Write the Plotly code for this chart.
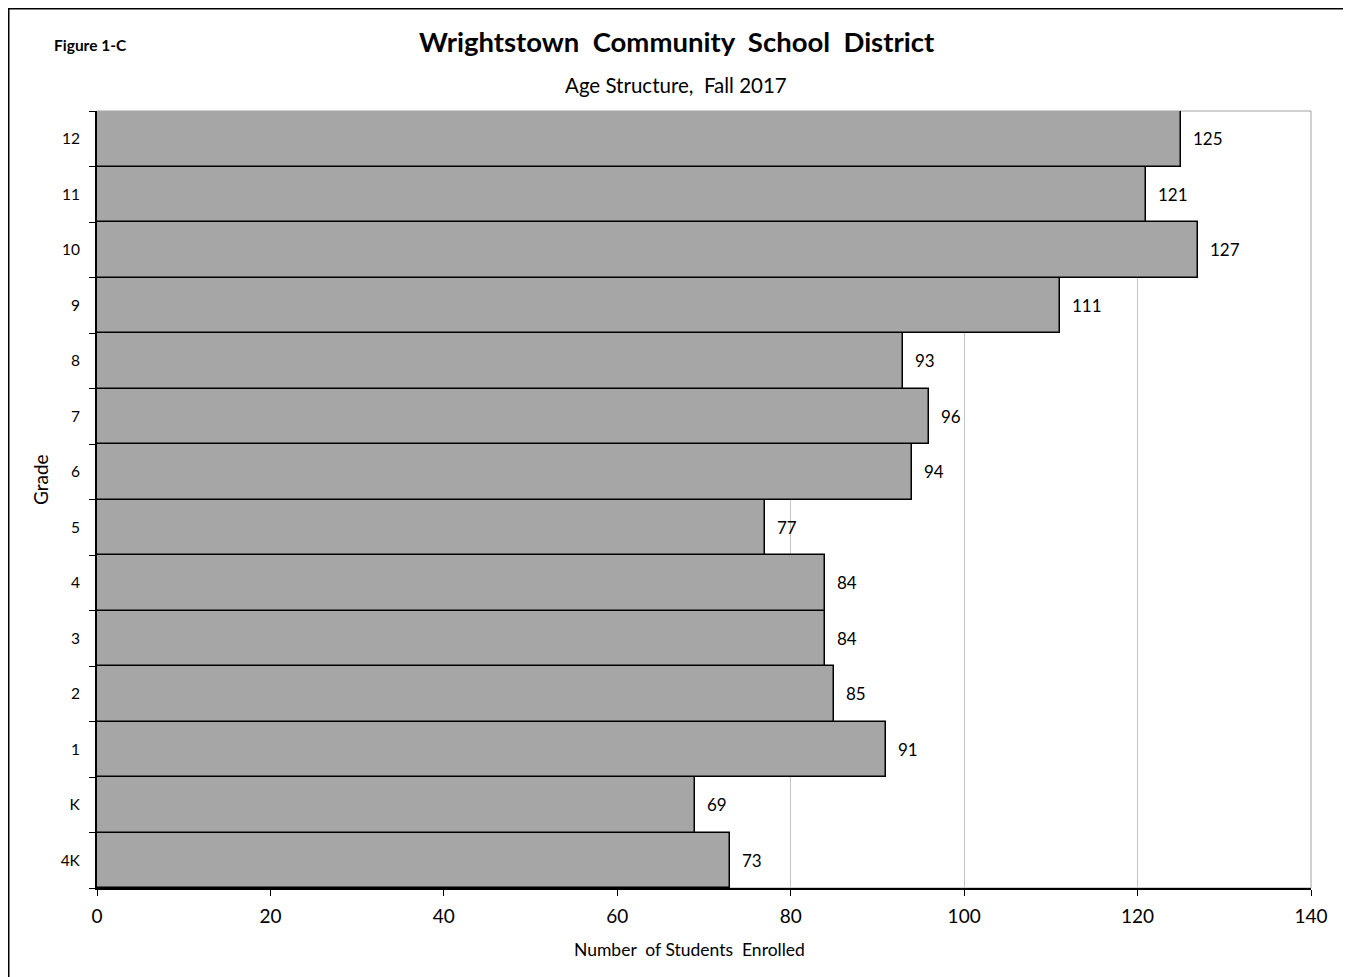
import plotly.graph_objects as go

grades = ["4K", "K", "1", "2", "3", "4", "5", "6", "7", "8", "9", "10", "11", "12"]
enrolled = [73, 69, 91, 85, 84, 84, 77, 94, 96, 93, 111, 127, 121, 125]
x_ticks = [0, 20, 40, 60, 80, 100, 120, 140]

FONT = "Lato"
NB = "\u00a0"

# page body offset (browser default margin)
OFF = 8
W, H = 1351 - OFF, 977 - OFF
L, R, T, B = 97 - OFF, 40, 111 - OFF, 89
pw, ph = W - L - R, H - T - B


def px(sx):
    """screen x -> paper x"""
    return (sx - OFF - L) / pw


def py(sy):
    """screen y -> paper y"""
    return (H - B - (sy - OFF)) / ph


fig = go.Figure()
fig.add_trace(go.Bar(
    x=enrolled, y=grades, orientation="h",
    marker=dict(color="#A6A6A6", line=dict(color="black", width=1.5)),
    hoverinfo="x+y",
))

for i, v in enumerate(enrolled):
    fig.add_annotation(x=v, y=i, text=str(v), showarrow=False,
                       xanchor="left", xshift=10,
                       font=dict(size=17, color="black", family=FONT))

# outer border
fig.add_shape(type="rect", xref="paper", yref="paper",
              x0=(0.75 - L) / pw, x1=(1337 - L) / pw,
              y0=-0.2, y1=(H - B - 0.75) / ph,
              line=dict(color="black", width=1.5), layer="below")
# plot area border
fig.add_shape(type="rect", xref="paper", yref="paper",
              x0=0, x1=1, y0=0, y1=1,
              line=dict(color="#A0A0A0", width=1), layer="below")

fig.add_annotation(xref="paper", yref="paper", x=px(52), y=py(45), text="<b>Figure 1-C</b>",
                   showarrow=False, xanchor="left", yanchor="middle",
                   font=dict(size=15.5, color="black", family=FONT))
fig.add_annotation(xref="paper", yref="paper", x=px(677), y=py(42),
                   text="<b>Wrightstown" + NB * 2 + "Community" + NB * 2 + "School" + NB + " District</b>",
                   showarrow=False, xanchor="center", yanchor="middle",
                   font=dict(size=27.5, color="black", family=FONT))
fig.add_annotation(xref="paper", yref="paper", x=px(676), y=py(85),
                   text="Age Structure," + NB * 2 + "Fall 2017",
                   showarrow=False, xanchor="center", yanchor="middle",
                   font=dict(size=20.5, color="black", family=FONT))
fig.add_annotation(xref="paper", yref="paper", x=px(689), y=py(950),
                   text="Number" + NB * 2 + "of Students" + NB * 2 + "Enrolled",
                   showarrow=False, xanchor="center", yanchor="middle",
                   font=dict(size=17.5, color="black", family=FONT))
fig.add_annotation(xref="paper", yref="paper", x=px(40), y=py(480),
                   text="Grade", textangle=-90,
                   showarrow=False, xanchor="center", yanchor="middle",
                   font=dict(size=19, color="black", family=FONT))

fig.update_layout(
    width=W, height=H,
    margin=dict(l=L, r=R, t=T, b=B),
    paper_bgcolor="white", plot_bgcolor="white",
    bargap=0, showlegend=False,
    font=dict(family=FONT, color="black"),
    xaxis=dict(range=[0, 140], tickvals=x_ticks, showgrid=True, gridcolor="#C4C4C4", gridwidth=1,
               showline=True, linecolor="black", linewidth=2, ticks="outside", ticklen=6,
               tickcolor="black", tickfont=dict(size=19, family=FONT), zeroline=False,
               ticklabelstandoff=4),
    yaxis=dict(type="category", categoryorder="array", categoryarray=grades,
               showline=True, linecolor="black", linewidth=2, ticks="outside", ticklen=6,
               tickcolor="black", tickson="boundaries", showgrid=False,
               tickfont=dict(size=15.5, family=FONT), ticklabelstandoff=12),
)

fig.write_html("out.html")
